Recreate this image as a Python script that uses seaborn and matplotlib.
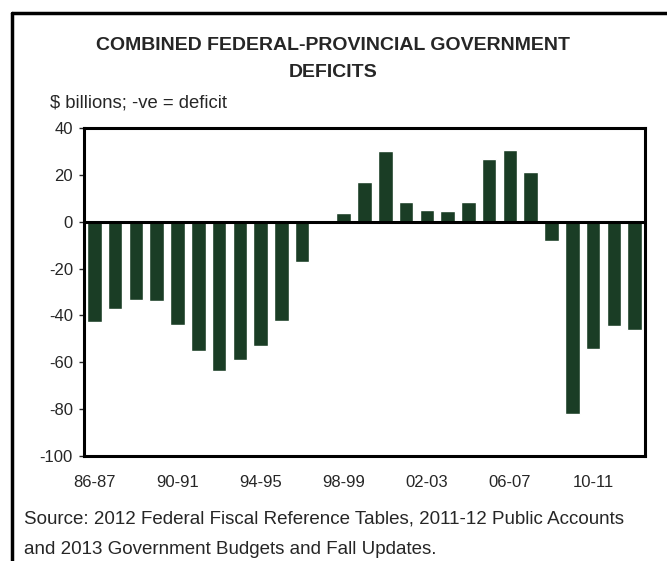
import matplotlib
matplotlib.use('Agg')
import matplotlib.pyplot as plt
import matplotlib.lines as mlines
import seaborn as sns
import pandas as pd

# Fiscal years and combined balance ($ billions)
years = ['86-87', '87-88', '88-89', '89-90', '90-91', '91-92', '92-93', '93-94',
         '94-95', '95-96', '96-97', '97-98', '98-99', '99-00', '00-01', '01-02',
         '02-03', '03-04', '04-05', '05-06', '06-07', '07-08', '08-09', '09-10',
         '10-11', '11-12', '12-13']
balance = [-42.7, -37.3, -33.5, -33.9, -44.2, -55.1, -63.8, -59.0,
           -53.1, -42.4, -17.2, -1.0, 3.7, 16.8, 30.0, 8.3,
           4.8, 4.4, 8.3, 26.6, 30.5, 21.1, -8.3, -82.2,
           -54.3, -44.6, -46.3]
shown_labels = ['86-87', '90-91', '94-95', '98-99', '02-03', '06-07', '10-11']

df = pd.DataFrame({'year': years, 'balance': balance})

sns.set_style('white')
plt.rcParams['font.family'] = ['Liberation Sans', 'DejaVu Sans']
plt.rcParams['axes.unicode_minus'] = False

W, H = 667, 561
fig = plt.figure(figsize=(W / 100, H / 100), dpi=100)
ax = fig.add_axes([84 / W, 1 - 456 / H, 561 / W, 328 / H])

sns.barplot(data=df, x='year', y='balance', color='#1a3d25', saturation=1,
            width=0.7, ax=ax)

ax.axhline(0, color='black', lw=2.2, zorder=3)
ax.set_ylim(-100, 40)
ax.set_xlim(-0.5, len(years) - 0.5)
ax.set_yticks(range(-100, 41, 20))
ax.set_xticks([years.index(y) for y in shown_labels])
ax.set_xticklabels(shown_labels)
ax.tick_params(axis='x', length=0, pad=13.5, labelsize=12)
ax.tick_params(axis='y', length=3.5, width=1, direction='out', left=True,
               labelsize=12, pad=4.5)
ax.set_xlabel('')
ax.set_ylabel('')
for s in ax.spines.values():
    s.set_visible(True)
    s.set_color('black')
    s.set_linewidth(2.2)

fig.text(0.5, 1 - 46 / H, 'COMBINED FEDERAL-PROVINCIAL GOVERNMENT',
         ha='center', va='center', fontsize=14, fontweight='bold')
fig.text(0.5, 1 - 72 / H, 'DEFICITS',
         ha='center', va='center', fontsize=14, fontweight='bold')
fig.text(50 / W, 1 - 103 / H, '$ billions; -ve = deficit', ha='left', va='center',
         fontsize=13.3)
fig.text(24 / W, 1 - 519 / H,
         'Source: 2012 Federal Fiscal Reference Tables, 2011-12 Public Accounts',
         ha='left', va='center', fontsize=13.5)
fig.text(24 / W, 1 - 550 / H, 'and 2013 Government Budgets and Fall Updates.',
         ha='left', va='center', fontsize=13.5)

# outer frame (left and top edges)
fig.add_artist(mlines.Line2D([12 / W, 12 / W], [0, 1 - 13 / H],
                             transform=fig.transFigure, color='black', lw=2.5))
fig.add_artist(mlines.Line2D([12 / W, 1], [1 - 13 / H, 1 - 13 / H],
                             transform=fig.transFigure, color='black', lw=2.5))

fig.savefig('out.png', dpi=100)
